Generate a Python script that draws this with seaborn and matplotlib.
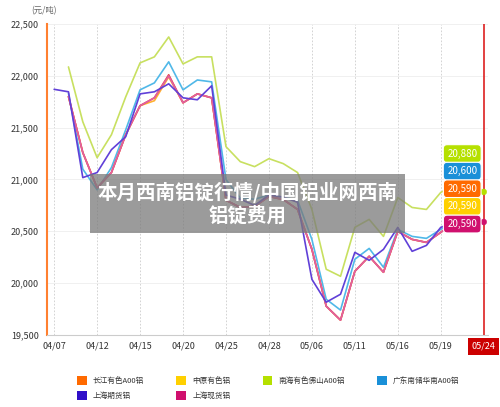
import numpy as np
import pandas as pd
import matplotlib
matplotlib.use('Agg')
import matplotlib.pyplot as plt
import seaborn as sns
from matplotlib.patches import Patch

sns.set_style('white')
plt.rcParams['font.family'] = ['Noto Sans CJK SC', 'DejaVu Sans']

tick_labels = ['04/07', '04/12', '04/15', '04/20', '04/25', '04/28', '05/06', '05/11', '05/16', '05/19', '05/24']

# daily points, index 0..30 (None = no data)
changjiang = [None, 21800, 21260, 20920, 21067, 21432, 21712, 21788, 22010, 21740, 21826, 21788, 20800, 20730, 20740,
              20836, 20807, 20711, 20326, 19778, 19643, 20114, 20259, 20105, 20499, 20422, 20393, 20490, 20590, 20590, None]
zhongyuan = [None, 21800, 21260, 20920, 21067, 21432, 21712, 21760, 21990, 21740, 21826, 21788, 20800, 20730, 20740,
             20836, 20807, 20711, 20326, 19778, 19643, 20114, 20259, 20105, 20499, 20422, 20393, 20490, 20590, 20590, None]
nanhai = [None, 22086, 21557, 21210, 21432, 21798, 22125, 22183, 22375, 22115, 22183, 22183, 21317, 21172, 21124,
          21201, 21153, 21067, 20711, 20134, 20066, 20538, 20615, 20451, 20826, 20730, 20711, 20875, 20950, 21000, 20880]
guangdong = [None, 21830, 21100, 20900, 21115, 21480, 21865, 21932, 22135, 21865, 21960, 21942, 21000, 20820, 20810,
             20850, 20830, 20800, 20422, 19845, 19740, 20230, 20335, 20153, 20518, 20451, 20432, 20518, 20600, 20600, None]
shfe = [21870, 21846, 21018, 21067, 21288, 21413, 21826, 21846, 21923, 21788, 21769, 21904, 20850, 20810, 20750,
        20850, 20830, 20780, 20037, 19816, 19893, 20297, 20220, 20326, 20538, 20307, 20364, 20538, 20590, None, None]
shspot = [None, 21800, 21260, 20920, 21067, 21432, 21712, 21788, 22000, 21740, 21826, 21788, 20800, 20730, 20740,
          20836, 20807, 20711, 20326, 19778, 19643, 20114, 20259, 20105, 20499, 20422, 20393, 20490, 20590, 20650, 20590]

names = ['长江有色A00铝', '中原有色铝', '南海有色佛山A00铝', '广东南储华南A00铝', '上海期货铝', '上海现货铝']
colors = ['#ff6a00', '#ffd000', '#b5e000', '#1a90d8', '#3010c8', '#d0106e']
line_colors = ['#e84040', '#ffb030', '#c8e060', '#50b8e8', '#6040d8', '#e060a0']
series = [changjiang, zhongyuan, nanhai, guangdong, shfe, shspot]

rows = []
for n, s in zip(names, series):
    for i, v in enumerate(s):
        if v is not None:
            rows.append({'idx': i, 'price': v, 'name': n})
df = pd.DataFrame(rows)

fig = plt.figure(figsize=(5, 4.07), dpi=100)
ax = fig.add_axes([0.094, 0.177, 0.882, 0.764])
order = [2, 3, 1, 0, 5, 4]
for k in order:
    sns.lineplot(data=df[df['name'] == names[k]], x='idx', y='price', color=line_colors[k], lw=1.2, ax=ax, legend=False)
sns.scatterplot(x=[30, 30], y=[20880, 20590], s=18, ax=ax, legend=False, zorder=5)
ax.collections[-1].set_color(['#b5e000', '#d0106e'])

ax.set_xlim(-0.5, 30.3)
ax.set_ylim(19500, 22500)
ax.set_xticks(range(0, 31, 3))
ax.set_xticklabels(tick_labels, fontsize=6.5, color='#333333')
ax.get_xticklabels()[-1].set_color('white')
ax.get_xticklabels()[-1].set_bbox(dict(boxstyle='square,pad=0.4', fc='#cc0000', ec='none'))
ax.set_yticks(range(19500, 22501, 500))
ax.set_yticklabels([f'{v:,}' for v in range(19500, 22501, 500)], fontsize=6.5, color='#333333')
ax.tick_params(axis='y', length=4, color='#ff8030', pad=2)
ax.tick_params(axis='x', length=0, pad=5)
ax.set_xlabel('')
ax.set_ylabel('')
for x in range(0, 28, 3):
    ax.axvline(x, color='#cccccc', lw=0.6, ls=(0, (2, 2)), zorder=0)
for y in range(20000, 22501, 500):
    ax.axhline(y, color='#eeeeee', lw=0.6, zorder=0)
ax.axvline(30, color='#dd2020', lw=1.2, zorder=4)
for s in ['top', 'right']:
    ax.spines[s].set_visible(False)
ax.spines['left'].set_color('#ff8030')
ax.spines['left'].set_linewidth(1.5)
ax.spines['bottom'].set_color('#cccccc')
ax.text(-0.035, 1.035, '(元/吨)', transform=ax.transAxes, fontsize=6, color='#666666')

# value labels
lab_order = [(2, 20880), (3, 20600), (0, 20590), (1, 20590), (5, 20590)]
ys = [21250, 21080, 20910, 20740, 20570]
for (k, v), yy in zip(lab_order, ys):
    ax.text(28.5, yy, f'{v:,}', fontsize=7, color='white', ha='center', va='center', zorder=6,
            bbox=dict(boxstyle='round,pad=0.4', fc=colors[k], ec='white', lw=0.8))

# overlay title
fig.text(0.495, 0.5, '本月西南铝锭行情/中国铝业网西南\n铝锭费用', fontsize=14, fontweight='bold', color='white',
         ha='center', va='center', linespacing=1.2,
         bbox=dict(boxstyle='square,pad=0.4', fc='#7a7a7a', ec='none', alpha=0.75), zorder=10)

# legend, row-major order
leg_order = [0, 4, 1, 5, 2, 3]
handles = [Patch(fc=colors[k], ec='none') for k in leg_order]
fig.legend(handles, [names[k] for k in leg_order], loc='lower left', ncol=4, bbox_to_anchor=(0.14, 0.0),
           fontsize=5.5, frameon=False, handlelength=1.3, handleheight=1.5, columnspacing=4.2,
           labelspacing=0.7, labelcolor='#333333')

fig.savefig('out.png', dpi=100)
